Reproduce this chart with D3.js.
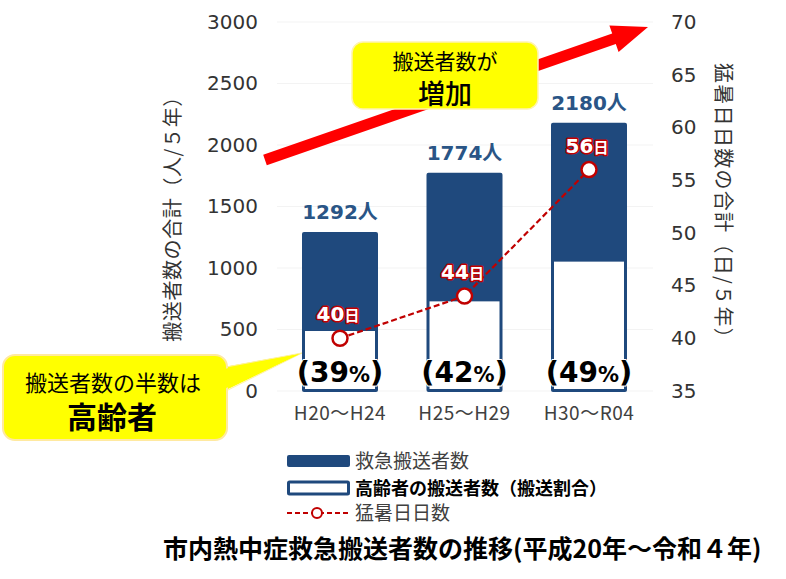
<!DOCTYPE html>
<html><head><meta charset="utf-8">
<script src="https://cdn.jsdelivr.net/npm/d3@7"></script>
<style>
html,body{margin:0;padding:0;background:#fff;}
svg{display:block;}
</style>
</head><body>
<svg id="c" width="786" height="579"></svg>
<script>
// ---- data ----
const categories = ["H20～H24", "H25～H29", "H30～R04"];
const transports = [1292, 1774, 2180];
const elderly = [504, 745, 1068];
const elderlyPct = [39, 42, 49];
const hotDays = [40, 44, 56];
const leftTicks = [0, 500, 1000, 1500, 2000, 2500, 3000];
const rightTicks = [35, 40, 45, 50, 55, 60, 65, 70];

const NAVY = "#1f497d", RED = "#c00000";
const VER = "'DejaVu Sans','Noto Sans CJK JP',sans-serif";
const JP = "'Noto Sans CJK JP','DejaVu Sans',sans-serif";

const svg = d3.select("#c");
const yL = d3.scaleLinear().domain([0, 3000]).range([391, 22]);
const yR = d3.scaleLinear().domain([35, 70]).range([391, 22]);
const x = d3.scalePoint().domain(categories).range([340, 589]);
const barW = 76;

// faint gridlines
svg.append("g").selectAll("line").data(leftTicks).join("line")
  .attr("x1", 277).attr("x2", 653)
  .attr("y1", d => yL(d)).attr("y2", d => yL(d))
  .attr("stroke", "#f3f3f3").attr("stroke-width", 1);

// left axis
const gL = svg.append("g").attr("transform", "translate(258,0)")
  .call(d3.axisLeft(yL).tickValues(leftTicks).tickFormat(d3.format("d")).tickSize(0).tickPadding(0));
gL.select(".domain").remove();
gL.selectAll("text").attr("font-family", VER).attr("font-size", 20).attr("fill", "#333");

// right axis
const gR = svg.append("g").attr("transform", "translate(671,0)")
  .call(d3.axisRight(yR).tickValues(rightTicks).tickFormat(d3.format("d")).tickSize(0).tickPadding(0));
gR.select(".domain").remove();
gR.selectAll("text").attr("font-family", VER).attr("font-size", 20).attr("fill", "#333");

// axis titles
svg.append("text").attr("transform", "translate(180,214) rotate(-90)")
  .attr("text-anchor", "middle").attr("font-family", JP).attr("font-size", 20).attr("letter-spacing", 0.6).attr("fill", "#333")
  .text("搬送者数の合計（人/５年）");
svg.append("text").attr("transform", "translate(716,206) rotate(90)")
  .attr("text-anchor", "middle").attr("font-family", JP).attr("font-size", 20).attr("letter-spacing", 1.3).attr("fill", "#333")
  .text("猛暑日日数の合計（日/５年）");

// x labels
svg.append("g").selectAll("text").data(categories).join("text")
  .attr("x", d => x(d)).attr("y", 420).attr("text-anchor", "middle")
  .attr("font-family", JP).attr("font-size", 19).attr("letter-spacing", 0.5).attr("fill", "#404040")
  .text(d => d);

// bars
const bars = svg.append("g");
bars.selectAll("rect.total").data(categories).join("rect").attr("class", "total")
  .attr("x", d => x(d) - barW / 2).attr("width", barW)
  .attr("y", (d, i) => yL(transports[i])).attr("height", (d, i) => yL(0) - yL(transports[i]) + 1)
  .attr("rx", 2).attr("fill", NAVY);
bars.selectAll("rect.eld").data(categories).join("rect").attr("class", "eld")
  .attr("x", d => x(d) - barW / 2 + 3).attr("width", barW - 6)
  .attr("y", (d, i) => yL(elderly[i]) + 2).attr("height", (d, i) => yL(0) - yL(elderly[i]) - 4)
  .attr("fill", "#fff");

// value labels
svg.append("g").selectAll("text").data(categories).join("text")
  .attr("x", d => x(d)).attr("y", (d, i) => yL(transports[i]) - 13)
  .attr("text-anchor", "middle").attr("font-family", VER).attr("font-weight", "bold")
  .attr("font-size", 20).attr("fill", "#2a5586")
  .text((d, i) => transports[i] + "人");

// percent labels
const pct = svg.append("g").selectAll("text").data(categories).join("text")
  .attr("x", d => x(d)).attr("y", 382).attr("text-anchor", "middle")
  .attr("font-family", VER).attr("font-weight", "bold").attr("fill", "#000")
  .attr("stroke", "#fff").attr("stroke-width", 2).attr("paint-order", "stroke");
pct.append("tspan").attr("font-size", 29).text("(");
pct.append("tspan").attr("font-size", 28).text((d, i) => elderlyPct[i]);
pct.append("tspan").attr("font-size", 21).text("%");
pct.append("tspan").attr("font-size", 29).text(")");

// line
const line = d3.line().x((d, i) => x(categories[i])).y(d => yR(d));
svg.append("path").datum(hotDays).attr("d", line)
  .attr("fill", "none").attr("stroke", RED).attr("stroke-width", 2.2).attr("stroke-dasharray", "6,3");
svg.append("g").selectAll("circle").data(hotDays).join("circle")
  .attr("cx", (d, i) => x(categories[i])).attr("cy", d => yR(d)).attr("r", 7.5)
  .attr("fill", "#fff").attr("stroke", RED).attr("stroke-width", 2.5);

// day labels
const dl = svg.append("g").selectAll("text").data(hotDays).join("text")
  .attr("x", (d, i) => x(categories[i]) - 2).attr("y", d => yR(d) - 17)
  .attr("text-anchor", "middle").attr("font-weight", "bold").attr("fill", "#fff")
  .attr("stroke", RED).attr("stroke-width", 3).attr("paint-order", "stroke").attr("stroke-linejoin", "round");
dl.append("tspan").attr("font-family", VER).attr("font-size", 20).text(d => d);
dl.append("tspan").attr("font-family", JP).attr("font-size", 15).text("日");

// red arrow (annotation)
(function () {
  const x0 = 265, y0 = 160, x1 = 648, y1 = 27;
  const dx = x1 - x0, dy = y1 - y0, L = Math.hypot(dx, dy);
  const ux = dx / L, uy = dy / L, nx = -uy, ny = ux;
  const w = 5.5, hw = 14, hl = 36;
  const bx = x1 - ux * hl, by = y1 - uy * hl;
  const pts = [
    [x0 + nx * w, y0 + ny * w], [bx + nx * w, by + ny * w], [bx + nx * hw, by + ny * hw],
    [x1, y1], [bx - nx * hw, by - ny * hw], [bx - nx * w, by - ny * w], [x0 - nx * w, y0 - ny * w]
  ];
  svg.append("path").attr("d", "M" + pts.map(p => p.join(",")).join("L") + "Z").attr("fill", "#ff0000");
})();

// callout top
svg.append("rect").attr("x", 352).attr("y", 42).attr("width", 186).attr("height", 67).attr("rx", 11)
  .attr("fill", "#ffff00").attr("stroke", "#fff3b0").attr("stroke-width", 1.5);
svg.append("text").attr("x", 445).attr("y", 69).attr("text-anchor", "middle")
  .attr("font-family", JP).attr("font-size", 21).attr("fill", "#000").text("搬送者数が");
svg.append("text").attr("x", 445).attr("y", 104).attr("text-anchor", "middle")
  .attr("font-family", JP).attr("font-weight", 500).attr("font-size", 27).attr("fill", "#000").text("増加");

// callout bottom
svg.append("path").attr("d", "M224,367 L302,353 L224,391 Z").attr("fill", "#ffff00");
svg.append("path").attr("d", "M226,367 L302,353 L226,391").attr("fill", "none").attr("stroke", "#fff0a0").attr("stroke-width", 1);
svg.append("rect").attr("x", 3).attr("y", 355).attr("width", 224).attr("height", 85).attr("rx", 12)
  .attr("fill", "#ffff00").attr("stroke", "#ffe9a0").attr("stroke-width", 2);
svg.append("path").attr("d", "M224,369 L300,354 L224,389 Z").attr("fill", "#ffff00");
svg.append("text").attr("x", 113).attr("y", 391).attr("text-anchor", "middle")
  .attr("font-family", JP).attr("font-size", 22).attr("fill", "#000").text("搬送者数の半数は");
svg.append("text").attr("x", 112).attr("y", 428).attr("text-anchor", "middle")
  .attr("font-family", JP).attr("font-weight", "bold").attr("font-size", 30).attr("fill", "#000").text("高齢者");

// legend
const lg = svg.append("g");
lg.append("rect").attr("x", 287).attr("y", 455).attr("width", 63).attr("height", 12).attr("rx", 2).attr("fill", NAVY);
lg.append("rect").attr("x", 288.5).attr("y", 482).attr("width", 60).attr("height", 12).attr("rx", 1)
  .attr("fill", "#fff").attr("stroke", NAVY).attr("stroke-width", 3);
lg.append("line").attr("x1", 287).attr("x2", 350).attr("y1", 513).attr("y2", 513)
  .attr("stroke", RED).attr("stroke-width", 2).attr("stroke-dasharray", "5,3");
lg.append("circle").attr("cx", 317).attr("cy", 513).attr("r", 5).attr("fill", "#fff").attr("stroke", RED).attr("stroke-width", 2);
lg.append("text").attr("x", 355).attr("y", 468).attr("font-family", JP).attr("font-size", 19).attr("fill", "#404040").text("救急搬送者数");
lg.append("text").attr("x", 355).attr("y", 495).attr("font-family", JP).attr("font-weight", "bold").attr("font-size", 18).attr("fill", "#000").text("高齢者の搬送者数（搬送割合）");
lg.append("text").attr("x", 355).attr("y", 520).attr("font-family", JP).attr("font-size", 19).attr("fill", "#404040").text("猛暑日日数");

// title
svg.append("text").attr("x", 163).attr("y", 558).attr("font-family", JP).attr("font-weight", "bold")
  .attr("font-size", 25).attr("fill", "#000").text("市内熱中症救急搬送者数の推移(平成20年～令和４年)");
</script>
</body></html>
